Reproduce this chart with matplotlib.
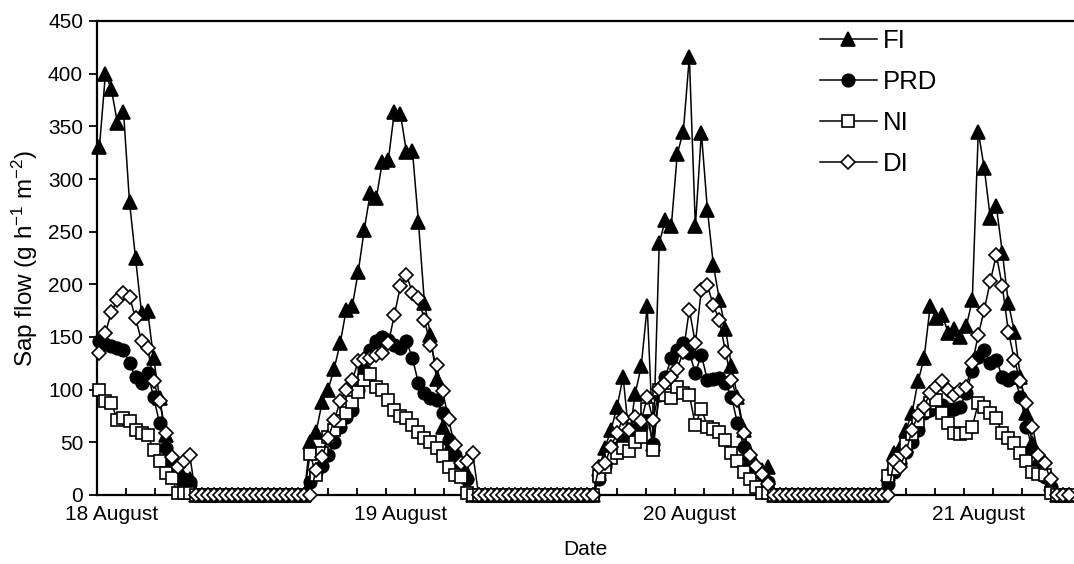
import numpy as np
import matplotlib.pyplot as plt

plt.rcParams['font.family'] = ['Liberation Sans', 'DejaVu Sans']
plt.rcParams['mathtext.fontset'] = 'custom'
plt.rcParams['mathtext.rm'] = 'Liberation Sans'
plt.rcParams['mathtext.it'] = 'Liberation Sans:italic'

# half-hourly readings, first one at 11:00 on 18 August
start_hour = 11.0
step_hours = 0.5

# Sap flow (g h-1 m-2)
fi = [330, 400, 385, 353, 364, 278, 225, 173, 175, 130, 92, 57, 30, 18, 15, 15,
      0, 0, 0, 0, 0, 0, 0, 0, 0, 0, 0, 0, 0, 0, 0, 0, 0, 0, 0,
      50, 60, 88, 100, 120, 144, 176, 179, 212, 252, 287, 282, 316, 318, 364, 362,
      326, 327, 259, 182, 152, 110, 65, 45, 36, 28, 21, 0,
      0, 0, 0, 0, 0, 0, 0, 0, 0, 0, 0, 0, 0, 0, 0, 0, 0, 0, 0, 0,
      25, 45, 62, 84, 112, 55, 96, 122, 179, 48, 239, 261, 255, 324, 345,
      416, 255, 344, 271, 218, 185, 158, 122, 93, 62, 40, 27, 24, 27, 0,
      0, 0, 0, 0, 0, 0, 0, 0, 0, 0, 0, 0, 0, 0, 0, 0, 0, 0,
      20, 40, 45, 62, 78, 108, 130, 179, 168, 171, 154, 158, 150, 160, 185,
      345, 310, 263, 274, 230, 182, 155, 112, 78, 49, 33, 21, 10, 0,
      0, 0]

prd = [146, 143, 141, 140, 138, 125, 112, 106, 116, 93, 68, 45, 30, 20, 15, 12,
       0, 0, 0, 0, 0, 0, 0, 0, 0, 0, 0, 0, 0, 0, 0, 0, 0, 0, 0,
       12, 22, 28, 38, 50, 65, 74, 81, 100, 119, 138, 146, 150, 147, 142, 140,
       146, 130, 106, 97, 92, 90, 78, 52, 38, 30, 15, 0,
       0, 0, 0, 0, 0, 0, 0, 0, 0, 0, 0, 0, 0, 0, 0, 0, 0, 0, 0, 0,
       15, 28, 38, 45, 52, 58, 62, 65, 75, 48, 95, 112, 130, 138, 144,
       135, 116, 133, 109, 110, 111, 106, 93, 68, 46, 30, 24, 20, 12, 0,
       0, 0, 0, 0, 0, 0, 0, 0, 0, 0, 0, 0, 0, 0, 0, 0, 0, 0,
       10, 22, 30, 41, 50, 62, 78, 81, 84, 85, 82, 82, 84, 97, 118,
       131, 138, 125, 128, 112, 109, 112, 93, 65, 43, 28, 17, 8, 0,
       0, 0]

ni = [100, 89, 87, 71, 73, 70, 62, 59, 57, 43, 32, 21, 16, 2, 2, 2,
      0, 0, 0, 0, 0, 0, 0, 0, 0, 0, 0, 0, 0, 0, 0, 0, 0, 0, 0,
      39, 19, 40, 55, 62, 70, 78, 88, 98, 109, 115, 103, 100, 90, 81, 75,
      73, 66, 60, 54, 50, 45, 37, 27, 19, 17, 2, 0,
      0, 0, 0, 0, 0, 0, 0, 0, 0, 0, 0, 0, 0, 0, 0, 0, 0, 0, 0, 0,
      18, 27, 35, 40, 45, 42, 50, 55, 82, 43, 100, 95, 92, 103, 97,
      95, 66, 82, 65, 63, 60, 52, 40, 32, 22, 15, 8, 2, 2, 0,
      0, 0, 0, 0, 0, 0, 0, 0, 0, 0, 0, 0, 0, 0, 0, 0, 0, 0,
      18, 25, 35, 48, 58, 70, 80, 87, 90, 78, 68, 59, 58, 59, 65,
      87, 84, 78, 73, 59, 54, 49, 40, 32, 22, 20, 19, 2, 0,
      0, 0]

di = [135, 154, 174, 185, 192, 188, 168, 146, 140, 108, 89, 59, 36, 27, 32, 38,
      0, 0, 0, 0, 0, 0, 0, 0, 0, 0, 0, 0, 0, 0, 0, 0, 0, 0, 0,
      0, 24, 36, 54, 71, 89, 100, 109, 127, 129, 130, 133, 135, 144, 171, 198,
      209, 192, 187, 166, 142, 123, 99, 72, 47, 30, 32, 40,
      0, 0, 0, 0, 0, 0, 0, 0, 0, 0, 0, 0, 0, 0, 0, 0, 0, 0, 0, 0,
      27, 30, 46, 59, 73, 62, 74, 70, 93, 71, 101, 106, 112, 120, 136,
      176, 144, 195, 199, 180, 166, 136, 109, 90, 59, 38, 28, 20, 10, 0,
      0, 0, 0, 0, 0, 0, 0, 0, 0, 0, 0, 0, 0, 0, 0, 0, 0, 0,
      0, 32, 27, 41, 62, 76, 84, 97, 103, 108, 100, 95, 100, 103, 125,
      152, 176, 203, 228, 198, 155, 128, 108, 87, 65, 38, 30, 15, 0,
      0, 0]

day_labels = ['18 August', '19 August', '20 August', '21 August']
day_noon_hours = [12, 36, 60, 84]

hours = start_hour + step_hours * np.arange(len(fi))

fig = plt.figure(figsize=(10.74, 5.64), dpi=100)
ax = fig.add_axes([97 / 1074, 69 / 564, 977 / 1074, 474 / 564])

common = dict(color='black', lw=1.1, mew=1.2, clip_on=False, zorder=3)
ax.plot(hours, fi, marker='^', ms=10.5, mfc='black', label='FI', **common)
ax.plot(hours, prd, marker='o', ms=9, mfc='black', label='PRD', **common)
ax.plot(hours, ni, marker='s', ms=8.5, mfc='white', label='NI', **common)
ax.plot(hours, di, marker='D', ms=7.5, mfc='white', label='DI', **common)

ax.set_xlim(10.8, 91.95)
ax.set_ylim(0, 450)
ax.set_yticks(np.arange(0, 451, 50))
ax.set_xticks(day_noon_hours)
ax.set_xticklabels(day_labels)
ax.set_xticks(np.arange(10.8, 92, 2.4), minor=True)

ax.tick_params(axis='x', which='major', length=0, pad=7, labelsize=15)
ax.tick_params(axis='x', which='minor', direction='in', length=5, width=1.3)
ax.tick_params(axis='y', direction='out', length=6, width=1.3, labelsize=15, pad=4)

for side in ['left', 'bottom', 'top']:
    ax.spines[side].set_linewidth(1.6)
ax.spines['right'].set_visible(False)

ax.set_xlabel('Date', fontsize=15, labelpad=12)
ax.set_ylabel('Sap flow (g h$^{-1}$ m$^{-2}$)', fontsize=17.5, labelpad=6)

ax.legend(loc='upper left', bbox_to_anchor=(0.74, 0.983), frameon=False,
          fontsize=18.5, handlelength=2.2, handletextpad=0.23, labelspacing=0.66,
          borderpad=0, borderaxespad=0)

fig.savefig('out.png', dpi=100)
